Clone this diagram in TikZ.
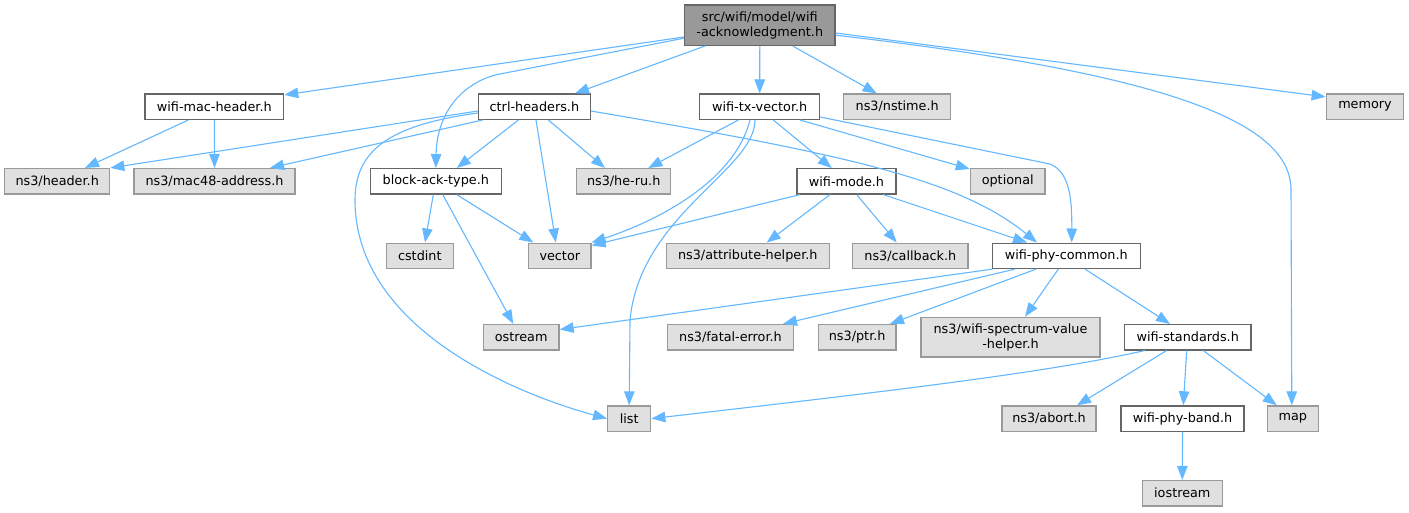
\documentclass[tikz,border=0pt]{standalone}
\usepackage{fontspec}
\setmainfont{DejaVu Sans}
\usetikzlibrary{arrows.meta}
\definecolor{depblue}{HTML}{63B8FF}
\definecolor{extfill}{HTML}{E0E0E0}
\definecolor{extdraw}{HTML}{999999}
\definecolor{intdraw}{HTML}{666666}
\begin{document}
\begin{tikzpicture}[x=1pt,y=-1pt,font=\fontsize{12.8}{15}\selectfont,
    box/.style={draw=intdraw,fill=white,line width=1.3pt,inner sep=1pt,minimum height=25.3pt,minimum width=#1},
    box/.default=60,
    ext/.style={box=#1,draw=extdraw,fill=extfill},
    dep/.style={draw=depblue,line width=1.1pt,-{Triangle[length=14pt,width=10.5pt]}}]
\useasboundingbox[fill=white] (0,0) rectangle (1409,512);
% files
\node[box=150.3,minimum height=40.3pt,fill=extdraw,align=center] (root) at (759.8,25.2) {src/wifi/model/wifi\\-acknowledgment.h};
\node[box=138.7] (mach) at (214.3,106.7) {wifi-mac-header.h};
\node[box=111.8] (ctrl) at (534.4,106.7) {ctrl-headers.h};
\node[box=120] (txv) at (759.7,106.7) {wifi-tx-vector.h};
\node[ext=107] (nstime) at (897.2,106.7) {ns3/nstime.h};
\node[ext=77.4] (memory) at (1365,106.7) {memory};
\node[ext=105] (hdr) at (57.2,181.2) {ns3/header.h};
\node[ext=161] (mac48) at (214.5,181.2) {ns3/mac48-address.h};
\node[box=131] (bat) at (435.8,181.3) {block-ack-type.h};
\node[ext=94] (heru) at (623.7,181.3) {ns3/he-ru.h};
\node[box=99] (mode) at (846.5,181.3) {wifi-mode.h};
\node[ext=74.7] (optional) at (1007.7,181.3) {optional};
\node[ext=67] (cstdint) at (419.8,255.8) {cstdint};
\node[ext=62.3] (vector) at (559.8,255.8) {vector};
\node[ext=163] (attr) at (747.8,255.8) {ns3/attribute-helper.h};
\node[ext=115.3] (callback) at (910.3,255.8) {ns3/callback.h};
\node[box=148] (phy) at (1066.3,255.8) {wifi-phy-common.h};
\node[ext=75.7] (ostream) at (521.2,337.2) {ostream};
\node[ext=126.4] (fatal) at (730.5,337.2) {ns3/fatal-error.h};
\node[ext=77.7] (ptr) at (857.2,337.2) {ns3/ptr.h};
\node[ext=179,minimum height=39.7pt,align=center] (spectrum) at (1010.5,337.2) {ns3/wifi-spectrum-value\\-helper.h};
\node[box=126.7] (std) at (1187.7,337.2) {wifi-standards.h};
\node[ext=43] (list) at (629.2,418.6) {list};
\node[ext=94] (abort) at (1049,418.6) {ns3/abort.h};
\node[box=123] (band) at (1182.5,418.6) {wifi-phy-band.h};
\node[ext=51] (map) at (1292.8,418.6) {map};
\node[ext=80] (iostream) at (1182.3,493.2) {iostream};
% includes of the root
\draw[dep] ([yshift=-11.8]root.west) -- ([yshift=-1.5]mach.north east);
\draw[dep] ([yshift=-13]root.west) -- (500,74) .. controls (465,81) and (437,110) .. (bat.north);
\draw[dep] ([xshift=-54.8]root.south) -- ([xshift=40.6]ctrl.north);
\draw[dep] (root.south) -- (txv.north);
\draw[dep] ([xshift=33]root.south) -- ([xshift=-20.5]nstime.north);
\draw[dep] ([yshift=-7.8]root.east) -- ([yshift=-3.5]memory.north west);
\draw[dep] ([yshift=-10]root.east) .. controls (1180,75) and (1291,125) .. (1291,190) -- ([xshift=-1]map.north);
% wifi-mac-header.h
\draw[dep] ([xshift=-26]mach.south) -- ([xshift=27.8]hdr.north);
\draw[dep] (mach.south) -- (mac48.north);
% ctrl-headers.h
\draw[dep] ([yshift=-4.3]ctrl.west) -- (hdr.north east);
\draw[dep] ([xshift=4.8]ctrl.south west) -- ([xshift=55.5]mac48.north);
\draw[dep] ([yshift=-6.3]ctrl.west) .. controls (390,125) and (355,150) .. (355,200) .. controls (355,330) and (520,395) .. (list.west);
\draw[dep] ([xshift=-16]ctrl.south) -- ([xshift=21]bat.north);
\draw[dep] ([xshift=1.6]ctrl.south) -- ([xshift=-4]vector.north);
\draw[dep] ([xshift=14]ctrl.south) -- ([xshift=-18.7]heru.north);
\draw[dep] ([yshift=-4.3]ctrl.east) .. controls (850,155) and (960,180) .. ([xshift=-29.3]phy.north);
% wifi-tx-vector.h
\draw[dep] ([xshift=-21.4]txv.south) -- ([xshift=24.6]heru.north);
\draw[dep] ([xshift=-9.7]txv.south) .. controls (735,180) and (660,220) .. (vector.north east);
\draw[dep] ([xshift=-4.7]txv.south) .. controls (755,170) and (640,215) .. (630,320) -- (list.north);
\draw[dep] ([xshift=13.6]txv.south) -- ([xshift=-14.8]mode.north);
\draw[dep] ([xshift=40.3]txv.south) -- ([yshift=-1]optional.north west);
\draw[dep] ([yshift=-10.3]txv.east) -- (1050,164) .. controls (1070,172) and (1072,200) .. ([xshift=5.4]phy.north);
% wifi-mode.h
\draw[dep] ([xshift=-46.5]mode.south) -- ([yshift=-3]vector.north east);
\draw[dep] ([xshift=-16.5]mode.south) -- ([xshift=18.9]attr.north);
\draw[dep] ([xshift=10.2]mode.south) -- ([xshift=-13.6]callback.north);
\draw[dep] ([xshift=36.8]mode.south) -- ([xshift=-39.3]phy.north);
% block-ack-type.h
\draw[dep] ([xshift=-2.5]bat.south) -- ([xshift=5.2]cstdint.north);
\draw[dep] ([xshift=20.9]bat.south) -- ([xshift=-26.5]vector.north);
\draw[dep] ([xshift=6.9]bat.south) -- ([xshift=-7.9]ostream.north);
% wifi-phy-common.h
\draw[dep] ([xshift=1]phy.south west) -- ([yshift=7.7]ostream.east);
\draw[dep] ([xshift=-51.3]phy.south) -- ([xshift=52.5]fatal.north);
\draw[dep] ([xshift=-30.3]phy.south) -- ([xshift=32.8]ptr.north);
\draw[dep] ([xshift=-8]phy.south) -- ([xshift=14.5]spectrum.north);
\draw[dep] ([xshift=18.7]phy.south) -- ([xshift=-17.7]std.north);
% wifi-standards.h
\draw[dep] ([xshift=-42.7]std.south) .. controls (1050,372) and (900,390) .. (list.east);
\draw[dep] ([xshift=-21]std.south) -- ([xshift=28]abort.north);
\draw[dep] ([xshift=-1]std.south) -- ([xshift=0.8]band.north);
\draw[dep] ([xshift=15.6]std.south) -- ([xshift=-16.1]map.north);
\draw[dep] (band.south) -- (iostream.north);
\end{tikzpicture}
\end{document}
